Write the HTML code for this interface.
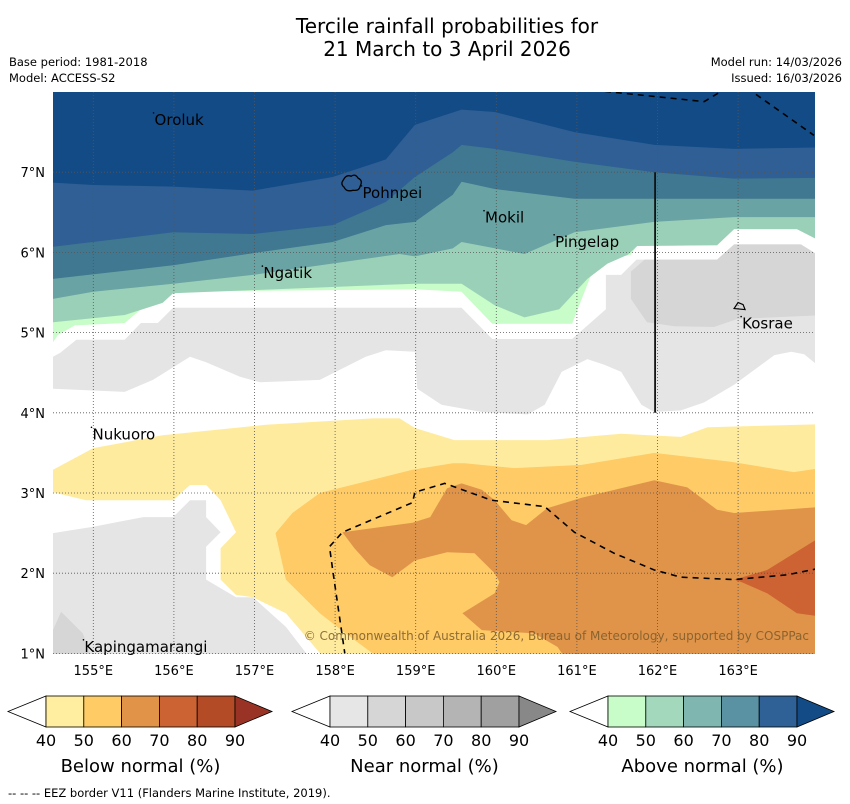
<!DOCTYPE html>
<html><head><meta charset="utf-8"><style>
body{margin:0;background:#fff;width:850px;height:804px;overflow:hidden;font-family:"DejaVu Sans","Liberation Sans",sans-serif;}
svg{position:absolute;left:0;top:0}
</style></head><body>
<svg id="c" width="850" height="804" font-family="DejaVu Sans, Liberation Sans, sans-serif">
<defs><clipPath id="mc"><rect x="53" y="92" width="762" height="562"/></clipPath></defs>
<text x="447" y="33" font-size="20" text-anchor="middle">Tercile rainfall probabilities for</text>
<text x="447" y="56" font-size="20" text-anchor="middle">21 March to 3 April 2026</text>
<text x="9" y="66" font-size="11.5">Base period: 1981-2018</text>
<text x="9" y="82" font-size="11.5">Model: ACCESS-S2</text>
<text x="842" y="66" font-size="11.5" text-anchor="end">Model run: 14/03/2026</text>
<text x="842" y="82" font-size="11.5" text-anchor="end">Issued: 16/03/2026</text>
<g id="map" clip-path="url(#mc)"></g>
<g id="ov"></g>
<g id="leg"></g>
<text x="8" y="797" font-size="11.5">--  --  -- EEZ border V11 (Flanders Marine Institute, 2019).</text>
</svg>
<script>
const lonTicks=[155,156,157,158,159,160,161,162,163];
const latTicks=[1,2,3,4,5,6,7];
const legendTicks=[40,50,60,70,80,90];
const belowColors=['#ffeda0','#fecb65','#e19447','#cc6333','#b34c26','#993325'];
const nearColors=['#e6e6e6','#d6d6d6','#c8c8c8','#b4b4b4','#a0a0a0','#888888'];
const aboveColors=['#c8fcc8','#a4d8bc','#80b6b0','#5a92a4','#2f6096','#134b86'];
const aboveL1=[[154.5,4.88],[154.56,4.97],[154.77,5.09],[155.39,5.12],[155.58,5.28],[155.76,5.34],[155.95,5.47],[156.01,5.51],[158.99,5.54],[159.57,5.51],[159.95,5.11],[160.94,5.11],[161.18,5.73],[161.38,5.91],[161.67,5.97],[161.74,6.08],[162.74,6.09],[162.95,6.29],[163.73,6.29],[164.1,6.1]];
const aboveL2=[[154.5,5.13],[155.39,5.22],[155.86,5.37],[155.99,5.49],[158.99,5.61],[159.57,5.61],[159.98,5.34],[160.35,5.19],[160.78,5.29],[161.13,5.67],[161.38,5.86],[161.63,5.97],[161.75,6.08],[162.74,6.09],[162.95,6.29],[163.73,6.29],[164.1,6.1]];
const aboveL3=[[154.5,5.42],[155.0,5.51],[155.99,5.61],[156.98,5.72],[158.8,5.98],[158.99,5.95],[159.46,6.05],[159.57,6.13],[160.35,5.98],[160.97,6.25],[161.96,6.38],[162.95,6.44],[164.1,6.44]];
const aboveL4=[[154.5,5.67],[155.99,5.84],[156.98,5.99],[157.97,6.13],[158.63,6.34],[158.99,6.38],[159.46,6.72],[159.57,6.88],[159.98,6.79],[160.97,6.67],[161.96,6.67],[164.1,6.67]];
const aboveL5=[[154.5,6.07],[155.99,6.25],[156.98,6.23],[157.97,6.34],[158.63,6.63],[158.99,6.94],[159.46,7.25],[159.57,7.34],[159.98,7.29],[160.97,7.13],[161.96,7.0],[162.95,6.92],[164.1,6.93]];
const aboveL6=[[154.5,6.87],[155.0,6.84],[155.99,6.82],[156.98,6.77],[157.97,6.94],[158.63,7.16],[158.99,7.59],[159.57,7.78],[159.98,7.75],[160.97,7.5],[161.96,7.34],[162.95,7.29],[164.1,7.31]];
const nearMain=[[154.5,4.70],[154.59,4.75],[154.79,4.91],[155.39,4.91],[155.59,5.12],[155.80,5.12],[155.99,5.31],[159.57,5.31],[159.95,4.92],[160.94,4.92],[161.36,5.29],[161.36,5.72],[161.55,5.72],[161.74,5.91],[162.74,5.91],[162.95,6.10],[163.76,6.10],[164.1,5.9],[164.1,4.5],[163.82,4.73],[163.66,4.76],[163.45,4.72],[162.95,4.35],[162.58,4.13],[162.29,4.03],[161.96,4.01],[161.80,4.10],[161.55,4.51],[161.34,4.60],[161.13,4.67],[160.81,4.51],[160.60,4.10],[160.39,3.98],[159.82,4.01],[159.32,4.10],[159.02,4.30],[158.99,4.76],[158.63,4.78],[158.38,4.70],[157.81,4.41],[157.07,4.38],[156.82,4.45],[156.40,4.63],[156.20,4.70],[155.74,4.41],[155.39,4.26],[154.5,4.30]];
const nearKosrae=[[161.67,5.76],[161.84,5.91],[162.74,5.91],[162.95,6.10],[163.78,6.10],[164.1,5.9],[164.1,5.22],[162.99,5.17],[162.70,5.07],[162.21,5.08],[161.87,5.13],[161.67,5.42]];
const nearSW=[[154.5,2.50],[155.0,2.58],[155.62,2.70],[155.99,2.70],[156.20,2.91],[156.40,2.91],[156.40,2.70],[156.58,2.51],[156.40,2.33],[156.40,1.92],[156.77,1.70],[156.98,1.70],[157.39,1.33],[157.72,0.9],[154.5,0.9]];
const nearSW2=[[154.5,1.29],[154.60,1.52],[154.87,1.25],[155.0,0.9],[154.5,0.9]];
const belowY1=[[154.5,3.29],[155.0,3.56],[155.86,3.72],[157.14,3.85],[158.47,3.93],[158.80,3.93],[158.99,3.81],[159.48,3.66],[160.63,3.66],[161.55,3.74],[162.29,3.70],[162.62,3.82],[164.1,3.86],[164.1,0.9],[157.9,0.9],[157.39,1.50],[156.98,1.70],[156.77,1.73],[156.58,1.92],[156.58,2.31],[156.77,2.51],[156.58,2.91],[156.40,3.10],[156.20,3.10],[155.99,2.91],[154.91,2.91],[154.5,3.01]];
const belowY2=[[157.26,2.50],[157.47,2.75],[157.81,3.00],[158.96,3.29],[159.46,3.37],[159.61,3.37],[160.22,3.31],[161.06,3.35],[161.96,3.50],[162.91,3.39],[163.69,3.26],[164.1,3.32],[164.1,0.9],[158.6,0.9],[158.13,1.25],[157.81,1.50],[157.39,1.92]];
const belowY3=[[158.09,2.51],[158.96,2.63],[159.18,2.70],[159.39,3.06],[159.57,3.12],[159.82,3.04],[159.98,2.91],[160.19,2.66],[160.37,2.60],[160.63,2.81],[161.06,2.94],[161.96,3.16],[162.37,3.07],[162.74,2.79],[162.95,2.75],[164.1,2.83],[164.1,0.9],[160.88,0.9],[160.76,1.08],[160.47,1.25],[159.82,1.29],[159.58,1.50],[159.98,1.75],[160.04,1.89],[159.98,2.0],[159.73,2.25],[159.39,2.26],[158.99,2.16],[158.71,1.95],[158.43,2.10],[158.24,2.31]];
const belowY4=[[162.95,1.92],[163.36,2.04],[164.1,2.5],[164.1,1.45],[163.73,1.50],[163.36,1.75],[163.04,1.89]];
const eezTop1=[[160.94,8.05],[162.58,7.88],[162.86,8.05]];
const eezTop2=[[163.11,8.05],[163.94,7.46]];
const eezSouth=[[164.0,2.06],[163.61,1.98],[162.95,1.92],[162.29,1.95],[161.96,2.04],[161.46,2.25],[160.97,2.51],[160.60,2.83],[159.94,2.91],[159.36,3.12],[158.99,3.01],[158.96,2.88],[158.09,2.51],[157.93,2.33],[157.97,2.04],[158.12,1.0]];
const places=[['Oroluk',155.76,7.59],['Pohnpei',158.34,6.68],['Mokil',159.86,6.37],['Pingelap',160.73,6.07],['Ngatik',157.11,5.68],['Kosrae',163.05,5.05],['Nukuoro',154.99,3.67],['Kapingamarangi',154.89,1.02]];
const mapColors=['#c8fcc8','#9bd0b8','#6aa3a3','#3f7890','#2f5f94','#134b86'];
const mapNear=['#e5e5e5','#d6d6d6'];
const mapBelow=['#ffeb9e','#fecb67','#e0944a','#cd6332'];

const NS='http://www.w3.org/2000/svg';
const X=lon=>53+(lon-154.5)*80.6;
const Y=lat=>92+(8-lat)*80.2;
function mk(tag,attrs,parent){const e=document.createElementNS(NS,tag);for(const k in attrs)e.setAttribute(k,attrs[k]);parent.appendChild(e);return e;}
const ptsStr=a=>a.map(p=>X(p[0]).toFixed(1)+','+Y(p[1]).toFixed(1)).join(' ');
const map=document.getElementById('map'),ov=document.getElementById('ov'),leg=document.getElementById('leg');
function band(line,color,name){
  const pts=[[154.4,line[0][1]],...line,[164.1,8.2],[154.4,8.2]];
  const e=mk('polygon',{points:ptsStr(pts),fill:color},map);
  
  
}
function poly(a,color,name){
  const e=mk('polygon',{points:ptsStr(a),fill:color},map);
  
  
}
[aboveL1,aboveL2,aboveL3,aboveL4,aboveL5,aboveL6].forEach((l,i)=>band(l,mapColors[i],'above-normal-contour-'+(40+10*i)));
poly(nearMain,mapNear[0],'near-normal-contour-40');
poly(nearKosrae,mapNear[1],'near-normal-contour-50');
poly(nearSW,mapNear[0],'near-normal-contour-40-south');
poly(nearSW2,mapNear[1],'near-normal-contour-50-south');
poly(belowY1,mapBelow[0],'below-normal-contour-40');
poly(belowY2,mapBelow[1],'below-normal-contour-50');
poly(belowY3,mapBelow[2],'below-normal-contour-60');
poly(belowY4,mapBelow[3],'below-normal-contour-70');
lonTicks.forEach(l=>{const e=mk('line',{x1:X(l),x2:X(l),y1:92,y2:654,stroke:'#555','stroke-width':0.8,'stroke-dasharray':'1,2'},map);


const t=mk('text',{x:X(l),y:675,'font-size':13,'text-anchor':'middle'},ov);t.textContent=l+'°E';

});
latTicks.forEach(l=>{const e=mk('line',{x1:53,x2:815,y1:Y(l),y2:Y(l),stroke:'#555','stroke-width':0.8,'stroke-dasharray':'1,2'},map);


const t=mk('text',{x:45,y:Y(l)+5,'font-size':13,'text-anchor':'end'},ov);t.textContent=l+'°N';

});
[eezTop1,eezTop2,eezSouth].forEach((a,i)=>{const e=mk('polyline',{points:ptsStr(a),fill:'none',stroke:'#000','stroke-width':1.6,'stroke-dasharray':'6,5'},map);

});
const vl=mk('line',{x1:X(161.97),x2:X(161.97),y1:Y(7),y2:Y(4),stroke:'#111','stroke-width':1.8},map);


const ph=mk('path',{d:`M${X(158.1)},${Y(6.9)} q3,-6 8,-4 q4,-3 7,2 q5,2 2,8 q-1,5 -7,4 q-7,2 -9,-3 q-4,-3 -1,-7 z`,fill:'none',stroke:'#000','stroke-width':1.3},ov);


const ks=mk('path',{d:`M${X(162.95)},${Y(5.3)} l4,-6 l5,2 l2,5 z`,fill:'none',stroke:'#000','stroke-width':1.2},ov);


places.forEach(p=>{const t=mk('text',{x:X(p[1]),y:Y(p[2]),'font-size':15},ov);t.textContent=p[0];


const d=mk('circle',{cx:X(p[1])-1,cy:Y(p[2])-12,r:0.8,fill:'#000'},ov);

});
const cp=mk('text',{x:809,y:640,'font-size':12,'text-anchor':'end',fill:'#7a5a2a','fill-opacity':0.85},ov);
cp.textContent='© Commonwealth of Australia 2026, Bureau of Meteorology, supported by COSPPac';


function colorbar(x0,colors,label,key){
  const w=37.8,top=696,bot=727,mid=711.5;
  const lt=mk('polygon',{points:`${x0-38},${mid} ${x0},${top} ${x0},${bot}`,fill:'#fff',stroke:'#000','stroke-width':0.8},leg);
  
  
  colors.forEach((c,i)=>{
    if(i<5){const r=mk('rect',{x:x0+i*w,y:top,width:w,height:bot-top,fill:c,stroke:'#000','stroke-width':0.8},leg);
      
      }
    else{const r=mk('polygon',{points:`${x0+5*w},${top} ${x0+5*w+37},${mid} ${x0+5*w},${bot}`,fill:c,stroke:'#000','stroke-width':0.8},leg);
      
      }
  });
  legendTicks.forEach((v,i)=>{const t=mk('text',{x:x0+i*w,y:746,'font-size':16,'text-anchor':'middle'},leg);t.textContent=v;
    
    });
  const t=mk('text',{x:x0+2.5*w,y:772,'font-size':18,'text-anchor':'middle'},leg);t.textContent=label;
  
  
}
colorbar(46,belowColors,'Below normal (%)','below');
colorbar(330,nearColors,'Near normal (%)','near');
colorbar(608,aboveColors,'Above normal (%)','above');
</script>
</body></html>
